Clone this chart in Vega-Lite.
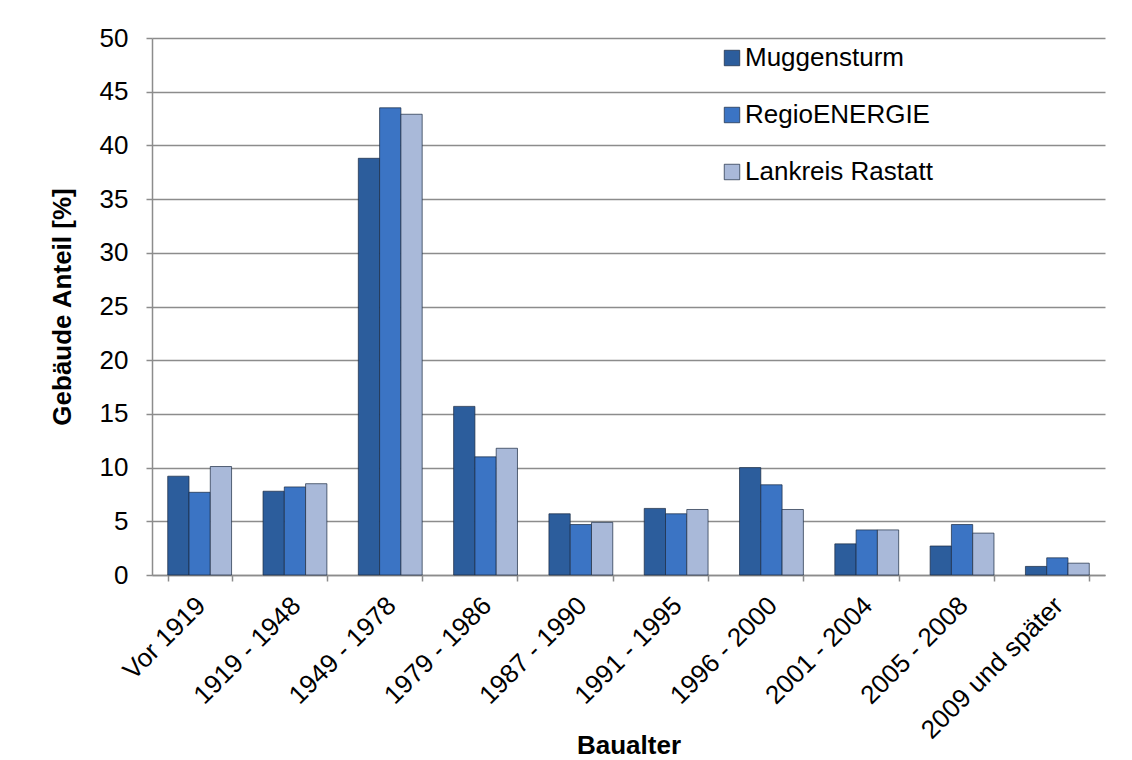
{
  "$schema": "https://vega.github.io/schema/vega-lite/v6.json",
  "width": 953,
  "height": 537,
  "autosize": "none",
  "padding": {"left": 152, "top": 38, "right": 27, "bottom": 185},
  "background": "white",
  "config": {
    "font": "Liberation Sans",
    "view": {"stroke": null},
    "axis": {"labelFont": "Liberation Sans", "titleFont": "Liberation Sans", "labelColor": "#000", "titleColor": "#000"}
  },
  "data": {
    "values": [
      {"cat": "Vor 1919", "s": "Muggensturm", "v": 9.2},
      {"cat": "Vor 1919", "s": "RegioENERGIE", "v": 7.7},
      {"cat": "Vor 1919", "s": "Lankreis Rastatt", "v": 10.1},
      {"cat": "1919 - 1948", "s": "Muggensturm", "v": 7.8},
      {"cat": "1919 - 1948", "s": "RegioENERGIE", "v": 8.2},
      {"cat": "1919 - 1948", "s": "Lankreis Rastatt", "v": 8.5},
      {"cat": "1949 - 1978", "s": "Muggensturm", "v": 38.8},
      {"cat": "1949 - 1978", "s": "RegioENERGIE", "v": 43.5},
      {"cat": "1949 - 1978", "s": "Lankreis Rastatt", "v": 42.9},
      {"cat": "1979 - 1986", "s": "Muggensturm", "v": 15.7},
      {"cat": "1979 - 1986", "s": "RegioENERGIE", "v": 11.0},
      {"cat": "1979 - 1986", "s": "Lankreis Rastatt", "v": 11.8},
      {"cat": "1987 - 1990", "s": "Muggensturm", "v": 5.7},
      {"cat": "1987 - 1990", "s": "RegioENERGIE", "v": 4.7},
      {"cat": "1987 - 1990", "s": "Lankreis Rastatt", "v": 4.9},
      {"cat": "1991 - 1995", "s": "Muggensturm", "v": 6.2},
      {"cat": "1991 - 1995", "s": "RegioENERGIE", "v": 5.7},
      {"cat": "1991 - 1995", "s": "Lankreis Rastatt", "v": 6.1},
      {"cat": "1996 - 2000", "s": "Muggensturm", "v": 10.0},
      {"cat": "1996 - 2000", "s": "RegioENERGIE", "v": 8.4},
      {"cat": "1996 - 2000", "s": "Lankreis Rastatt", "v": 6.1},
      {"cat": "2001 - 2004", "s": "Muggensturm", "v": 2.9},
      {"cat": "2001 - 2004", "s": "RegioENERGIE", "v": 4.2},
      {"cat": "2001 - 2004", "s": "Lankreis Rastatt", "v": 4.2},
      {"cat": "2005 - 2008", "s": "Muggensturm", "v": 2.7},
      {"cat": "2005 - 2008", "s": "RegioENERGIE", "v": 4.7},
      {"cat": "2005 - 2008", "s": "Lankreis Rastatt", "v": 3.9},
      {"cat": "2009 und später", "s": "Muggensturm", "v": 0.8},
      {"cat": "2009 und später", "s": "RegioENERGIE", "v": 1.6},
      {"cat": "2009 und später", "s": "Lankreis Rastatt", "v": 1.1}
    ]
  },
  "mark": {"type": "bar", "stroke": "#1a2a40", "strokeWidth": 0.7},
  "encoding": {
    "x": {
      "field": "cat",
      "type": "nominal",
      "sort": null,
      "scale": {"paddingInner": 0.33, "paddingOuter": 0.165},
      "axis": {
        "title": "Baualter",
        "titleFontSize": 26,
        "titleFontWeight": "bold",
        "titleBaseline": "middle",
        "titleY": 170,
        "labelAngle": -45,
        "labelFontSize": 26,
        "labelPadding": 11,
        "labelOffset": -8,
        "labelLimit": 0,
        "tickBand": "extent",
        "tickSize": 6,
        "tickColor": "#8c8c8c",
        "domainColor": "#8c8c8c",
        "domainWidth": 1.5,
        "tickWidth": 1.5
      }
    },
    "xOffset": {"field": "s", "sort": ["Muggensturm", "RegioENERGIE", "Lankreis Rastatt"]},
    "y": {
      "field": "v",
      "type": "quantitative",
      "scale": {"domain": [0, 50]},
      "axis": {
        "title": "Gebäude Anteil [%]",
        "titleFontSize": 26,
        "titleFontWeight": "bold",
        "titlePadding": 24,
        "values": [0, 5, 10, 15, 20, 25, 30, 35, 40, 45, 50],
        "labelFontSize": 26,
        "labelPadding": 18,
        "tickSize": 6,
        "tickColor": "#8c8c8c",
        "domainColor": "#8c8c8c",
        "domainWidth": 1.5,
        "tickWidth": 1.5,
        "gridColor": "#8c8c8c",
        "gridWidth": 1.5
      }
    },
    "color": {
      "field": "s",
      "type": "nominal",
      "sort": ["Muggensturm", "RegioENERGIE", "Lankreis Rastatt"],
      "scale": {"domain": ["Muggensturm", "RegioENERGIE", "Lankreis Rastatt"], "range": ["#2c5d9c", "#3b74c4", "#a9b9d9"]},
      "legend": {
        "title": null,
        "orient": "none",
        "legendX": 567,
        "legendY": 7,
        "symbolType": "square",
        "symbolSize": 240,
        "symbolStrokeColor": "#1a2a40",
        "symbolStrokeWidth": 0.7,
        "labelFontSize": 26,
        "labelColor": "#000",
        "labelOffset": 0,
        "labelLimit": 0,
        "rowPadding": 31
      }
    }
  }
}
